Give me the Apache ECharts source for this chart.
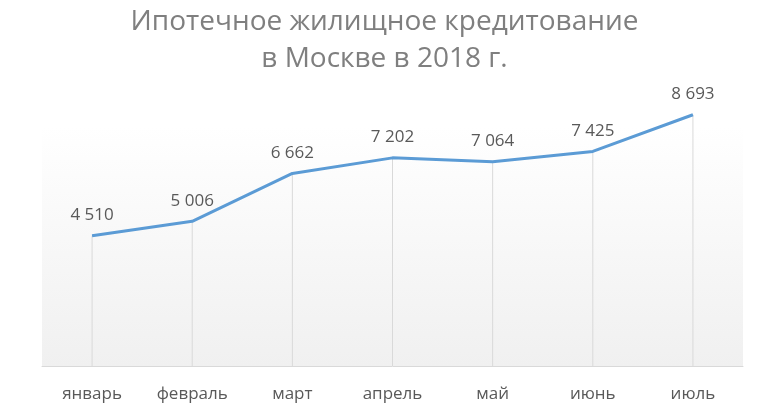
<!DOCTYPE html>
<html>
<head>
<meta charset="utf-8">
<script src="https://cdn.jsdelivr.net/npm/echarts@6/dist/echarts.min.js"></script>
<style>
  html, body { margin: 0; padding: 0; background: #fff; }
  #container { width: 769px; height: 418px; }
</style>
</head>
<body>
<div id="container"></div>
<script>
  var dom = document.getElementById("container");
  var myChart = echarts.init(dom);

  // данные
  var months = ['январь', 'февраль', 'март', 'апрель', 'май', 'июнь', 'июль'];
  var credits = [4510, 5006, 6662, 7202, 7064, 7425, 8693];
  var chartTitle = 'Ипотечное жилищное кредитование\nв Москве в 2018 г.';

  function fmt(v) {
      return String(v).replace(/\B(?=(\d{3})+(?!\d))/g, ' ');
  }

  var option = {
      animation: false,
      textStyle: { fontFamily: 'Open Sans' },
      title: {
          text: chartTitle,
          left: 'center',
          top: -1,
          textStyle: {
              color: '#7f7f7f',
              fontSize: 28,
              fontWeight: 'normal',
              fontFamily: 'Open Sans',
              lineHeight: 37
          }
      },
      grid: {
          left: 42,
          right: 26,
          top: 77,
          bottom: 52,
          show: true,
          borderWidth: 0,
          //фон с градиентом
          backgroundColor: new echarts.graphic.LinearGradient(0, 0, 0, 1, [
              { offset: 0, color: '#ffffff' },
              { offset: 0.17, color: '#ffffff' },
              { offset: 1, color: '#f0f0f0' }
          ])
      },
      xAxis: {
          type: 'category',
          data: months,
          boundaryGap: true,
          axisLine: { lineStyle: { color: '#d9d9d9', width: 1 } },
          axisTick: { show: false },
          axisLabel: { color: '#595959', fontSize: 17, margin: 20 }
      },
      yAxis: {
          type: 'value',
          min: 0,
          max: 10000,
          show: false,
          splitLine: { show: false }
      },
      series: [
          {
              // вертикальные линии от точек
              type: 'bar',
              data: credits,
              barWidth: 1,
              silent: true,
              itemStyle: { color: '#d9d9d9' },
              z: 1
          },
          {
              type: 'line',
              data: credits,
              symbol: 'circle',
              symbolSize: 0,
              showSymbol: true,
              lineStyle: { color: '#5b9bd5', width: 3 },
              itemStyle: { color: '#5b9bd5' },
              z: 3,
              label: {
                  show: true,
                  position: 'top',
                  distance: 12,
                  color: '#595959',
                  fontSize: 17,
                  formatter: function (p) { return fmt(p.value); }
              }
          }
      ]
  };

  if (option && typeof option === "object") {
      myChart.setOption(option, true);
  }
</script>
</body>
</html>
